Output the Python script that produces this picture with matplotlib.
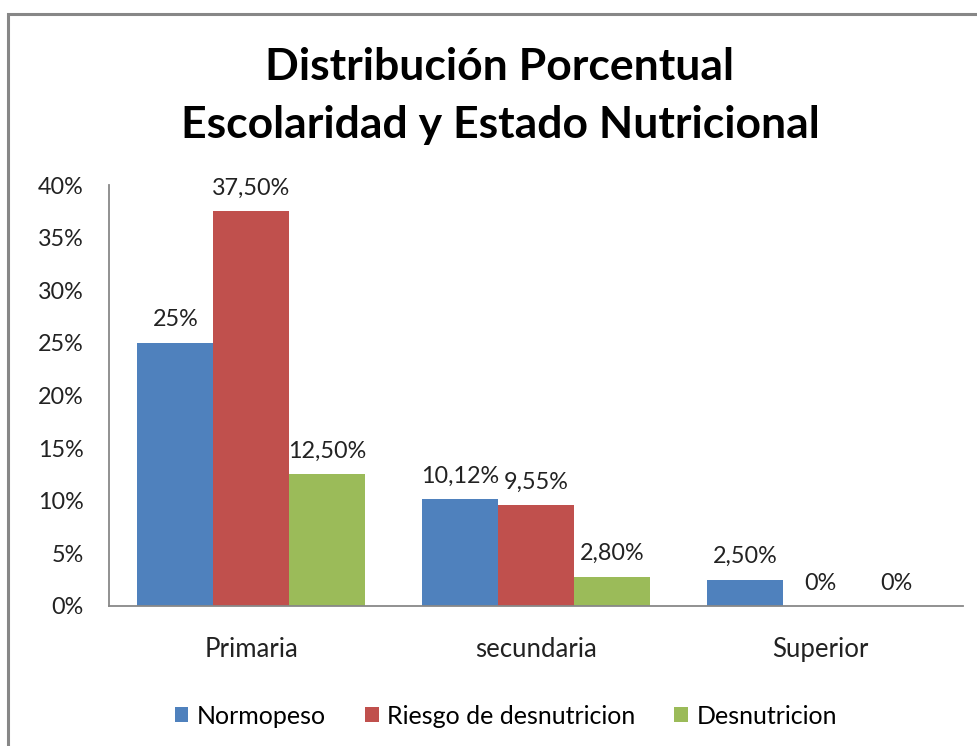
import matplotlib
matplotlib.use("Agg")
import matplotlib.pyplot as plt
from matplotlib.patches import Rectangle
import numpy as np

categories = ["Primaria", "secundaria", "Superior"]
series_names = ["Normopeso", "Riesgo de desnutricion", "Desnutricion"]
normopeso = [25.0, 10.12, 2.50]
riesgo = [37.50, 9.55, 0.0]
desnutricion = [12.50, 2.80, 0.0]
labels_normopeso = ["25%", "10,12%", "2,50%"]
labels_riesgo = ["37,50%", "9,55%", "0%"]
labels_desnutricion = ["12,50%", "2,80%", "0%"]
yticks = [0, 5, 10, 15, 20, 25, 30, 35, 40]
ytick_labels = ["0%", "5%", "10%", "15%", "20%", "25%", "30%", "35%", "40%"]

colors = ["#4F81BD", "#C0504D", "#9BBB59"]
FONT = ["Lato", "DejaVu Sans"]
plt.rcParams["font.family"] = FONT

W, H = 978, 746
fig = plt.figure(figsize=(W / 100, H / 100), dpi=100)
fig.patch.set_facecolor("white")

# chart border
fig.patches.append(Rectangle((8 / W, -0.05), 1.1, 1 - 14 / H + 0.05,
                             transform=fig.transFigure, fill=False,
                             edgecolor="#878787", linewidth=2.2, zorder=0))

ax = fig.add_axes([109 / W, 1 - 606 / H, (963 - 109) / W, (606 - 185) / H])
x = np.arange(len(categories))
bw = 1 / 3.75
all_vals = [normopeso, riesgo, desnutricion]
all_labels = [labels_normopeso, labels_riesgo, labels_desnutricion]
for i, (vals, labs) in enumerate(zip(all_vals, all_labels)):
    pos = x + (i - 1) * bw
    ax.bar(pos, vals, width=bw, color=colors[i], label=series_names[i], zorder=2)
    for px, v, lab in zip(pos, vals, labs):
        ax.annotate(lab, (px, v), xytext=(0, 9), textcoords="offset points",
                    ha="center", va="bottom", fontsize=16.8, color="#222222")

ax.set_xlim(-0.5, 2.5)
ax.set_ylim(0, 40)
ax.set_yticks(yticks)
ax.set_yticklabels(ytick_labels)
ax.set_xticks(x)
ax.set_xticklabels(categories)
ax.tick_params(axis="y", length=0, pad=18, labelsize=16.8, labelcolor="#222222")
ax.tick_params(axis="x", length=0, pad=22, labelsize=18.5, labelcolor="#222222")
for s in ["top", "right"]:
    ax.spines[s].set_visible(False)
for s in ["left", "bottom"]:
    ax.spines[s].set_color("#888888")
    ax.spines[s].set_linewidth(1.3)

fig.text(500 / W, 1 - 67 / H, "Distribución Porcentual", ha="center", va="center",
         fontsize=32, fontweight="bold")
fig.text(500 / W, 1 - 125 / H, "Escolaridad y Estado Nutricional", ha="center",
         va="center", fontsize=32, fontweight="bold")

fig.legend(loc="center", bbox_to_anchor=(506 / W, 1 - 716 / H), ncol=3,
           frameon=False, fontsize=18, handlelength=0.55, handleheight=0.55,
           handletextpad=0.35, columnspacing=1.55)

fig.savefig("out.png", dpi=100)
